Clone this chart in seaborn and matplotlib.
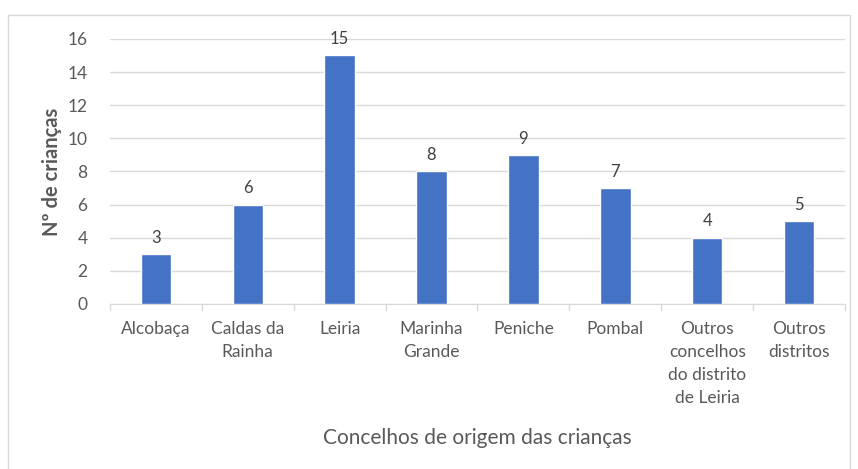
import matplotlib
matplotlib.use("Agg")
import matplotlib.pyplot as plt
from matplotlib.patches import Rectangle
import seaborn as sns
import pandas as pd

# dados
concelhos = ["Alcobaça", "Caldas da\nRainha", "Leiria", "Marinha\nGrande", "Peniche",
             "Pombal", "Outros\nconcelhos\ndo distrito\nde Leiria", "Outros\ndistritos"]
n_criancas = [3, 6, 15, 8, 9, 7, 4, 5]
y_ticks = [0, 2, 4, 6, 8, 10, 12, 14, 16]

df = pd.DataFrame({"concelho": concelhos, "n": n_criancas})

sns.set_style("white")
plt.rcParams["font.family"] = ["Lato", "DejaVu Sans"]
grey = "#595959"

fig = plt.figure(figsize=(8.58, 4.69), dpi=100)
ax = fig.add_axes([0.128, 0.352, 0.857, 0.565])

sns.barplot(data=df, x="concelho", y="n", color="#4472C4", width=0.33,
            saturation=1, ax=ax, zorder=3)

for i, v in enumerate(n_criancas):
    ax.text(i, v + 0.5, str(v), ha="center", va="bottom", fontsize=12, color="#404040")

ax.set_ylim(0, 16)
ax.set_xlim(-0.5, len(concelhos) - 0.5)
ax.set_yticks(y_ticks)
ax.yaxis.grid(True, color="#D9D9D9", linewidth=1, zorder=0)
for s in ["top", "right", "left"]:
    ax.spines[s].set_visible(False)
ax.spines["bottom"].set_color("#D9D9D9")

ax.tick_params(axis="y", length=0, labelsize=12.5, labelcolor=grey, pad=16)
ax.tick_params(axis="x", length=0, labelsize=12.5, labelcolor=grey, pad=12)
ax.set_xticks(range(len(concelhos)))
ax.set_xticklabels(concelhos, linespacing=1.55)
# traços entre categorias
for b in range(len(concelhos) + 1):
    ax.plot([b - 0.5, b - 0.5], [0, -0.35], color="#D9D9D9", lw=1, clip_on=False)

ax.set_ylabel("Nº de crianças", fontsize=14.5, color=grey, fontweight="bold", labelpad=4)
ax.set_xlabel("Concelhos de origem das crianças", fontsize=15, color=grey, labelpad=16)

fig.patches.append(Rectangle((0.009, -0.01), 0.982, 0.978, transform=fig.transFigure,
                             fill=False, edgecolor="#D9D9D9", lw=1))

fig.savefig("out.png", dpi=100)
